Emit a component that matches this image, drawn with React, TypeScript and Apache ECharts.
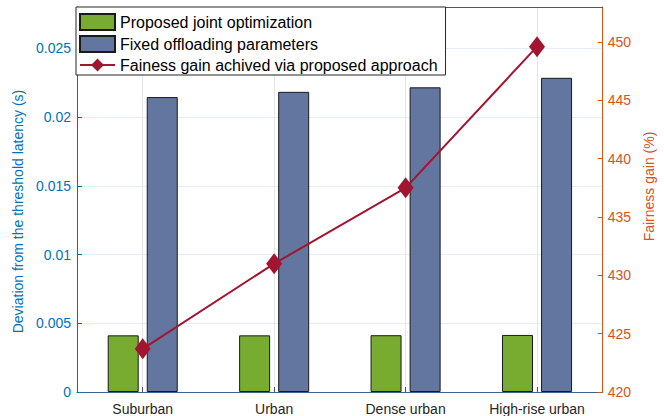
import React, { useEffect, useRef } from "react";
import * as echarts from "echarts";

const categories = ["Suburban", "Urban", "Dense urban", "High-rise urban"];
const proposedDeviation = [0.00412, 0.00412, 0.00413, 0.00415];
const fixedDeviation = [0.02145, 0.02183, 0.02216, 0.02285];
const fairnessGain = [423.7, 431.0, 437.5, 449.6];
const seriesNames = [
  "Proposed joint optimization",
  "Fixed offloading parameters",
  "Fainess gain achived via proposed approach",
];

const FONT = "Liberation Sans, Arial, Helvetica, sans-serif";
const LEFT_COLOR = "#0072BD";
const RIGHT_COLOR = "#D95319";

export default function App() {
  const ref = useRef<HTMLDivElement>(null);
  useEffect(() => {
    if (!ref.current) return;
    const chart = echarts.init(ref.current, undefined, { renderer: "svg" });
    chart.setOption({
      animation: false,
      backgroundColor: "#ffffff",
      textStyle: { fontFamily: FONT },
      grid: { left: 77, right: 60, top: 7, bottom: 23, containLabel: false },
      legend: {
        orient: "vertical",
        left: 76,
        top: 7,
        itemWidth: 35,
        itemHeight: 16,
        itemGap: 4,
        padding: [6, 8, 2, 3],
        backgroundColor: "#ffffff",
        borderColor: "#262626",
        borderWidth: 1,
        borderRadius: 0,
        textStyle: { fontSize: 16, lineHeight: 16, color: "#000000", fontFamily: FONT },
        data: [
          { name: seriesNames[0], icon: "rect" },
          { name: seriesNames[1], icon: "rect" },
          { name: seriesNames[2] },
        ],
      },
      xAxis: [
        {
          type: "category",
          data: categories,
          boundaryGap: true,
          axisLine: { show: true, lineStyle: { color: "#3f6384", width: 1 } },
          axisTick: { show: true, alignWithLabel: true, inside: true, length: 5, lineStyle: { color: "#555" } },
          axisLabel: { fontSize: 14, color: "#262626", margin: 10, fontFamily: FONT },
          splitLine: { show: true, alignWithLabel: true, lineStyle: { color: "#e6e6e6", width: 1 } },
        },
        {
          type: "category",
          position: "top",
          data: categories,
          axisLine: { show: true, lineStyle: { color: "#555555", width: 1 } },
          axisTick: { show: false },
          axisLabel: { show: false },
          splitLine: { show: false },
        },
      ],
      yAxis: [
        {
          type: "value",
          min: 0,
          max: 0.028,
          interval: 0.005,
          position: "left",
          name: "Deviation from the threshold latency (s)",
          nameLocation: "middle",
          nameGap: 46,
          nameTextStyle: { fontSize: 14, color: LEFT_COLOR, fontFamily: FONT, padding: [0, 24, 0, 0] },
          axisLine: { show: true, lineStyle: { color: LEFT_COLOR, width: 1 } },
          axisTick: { show: true, inside: true, length: 5, lineStyle: { color: LEFT_COLOR } },
          axisLabel: {
            fontSize: 14,
            color: LEFT_COLOR,
            margin: 6,
            showMaxLabel: false,
            fontFamily: FONT,
            formatter: (v: number) => String(+v.toFixed(4)),
          },
          splitLine: { show: true, lineStyle: { color: "#e1edf7", width: 1 } },
        },
        {
          type: "value",
          min: 420,
          max: 453,
          interval: 5,
          position: "right",
          name: "Fairness gain (%)",
          nameLocation: "middle",
          nameGap: 37,
          nameTextStyle: { fontSize: 14, color: RIGHT_COLOR, fontFamily: FONT, padding: [0, 0, 0, 26] },
          axisLine: { show: true, lineStyle: { color: RIGHT_COLOR, width: 1 } },
          axisTick: { show: true, inside: true, length: 5, lineStyle: { color: RIGHT_COLOR } },
          axisLabel: { fontSize: 14, color: RIGHT_COLOR, margin: 5, showMaxLabel: false, fontFamily: FONT },
          splitLine: { show: false },
        },
      ],
      series: [
        {
          name: seriesNames[0],
          type: "bar",
          data: proposedDeviation,
          barWidth: 31,
          barGap: "26%",
          itemStyle: { color: "#77AC30", borderColor: "#1a1a1a", borderWidth: 1 },
        },
        {
          name: seriesNames[1],
          type: "bar",
          data: fixedDeviation,
          barWidth: 31,
          barGap: "26%",
          itemStyle: { color: "#62769F", borderColor: "#1a1a1a", borderWidth: 1 },
        },
        {
          name: seriesNames[2],
          type: "line",
          yAxisIndex: 1,
          data: fairnessGain,
          symbol: "diamond",
          symbolSize: [16, 21],
          lineStyle: { color: "#A2142F", width: 2 },
          itemStyle: { color: "#A2142F" },
          z: 5,
        },
      ],
    });
    return () => chart.dispose();
  }, []);
  return (
    <div
      ref={ref}
      style={{ position: "fixed", left: 0, top: 0, width: 664, height: 416 }}
    />
  );
}
